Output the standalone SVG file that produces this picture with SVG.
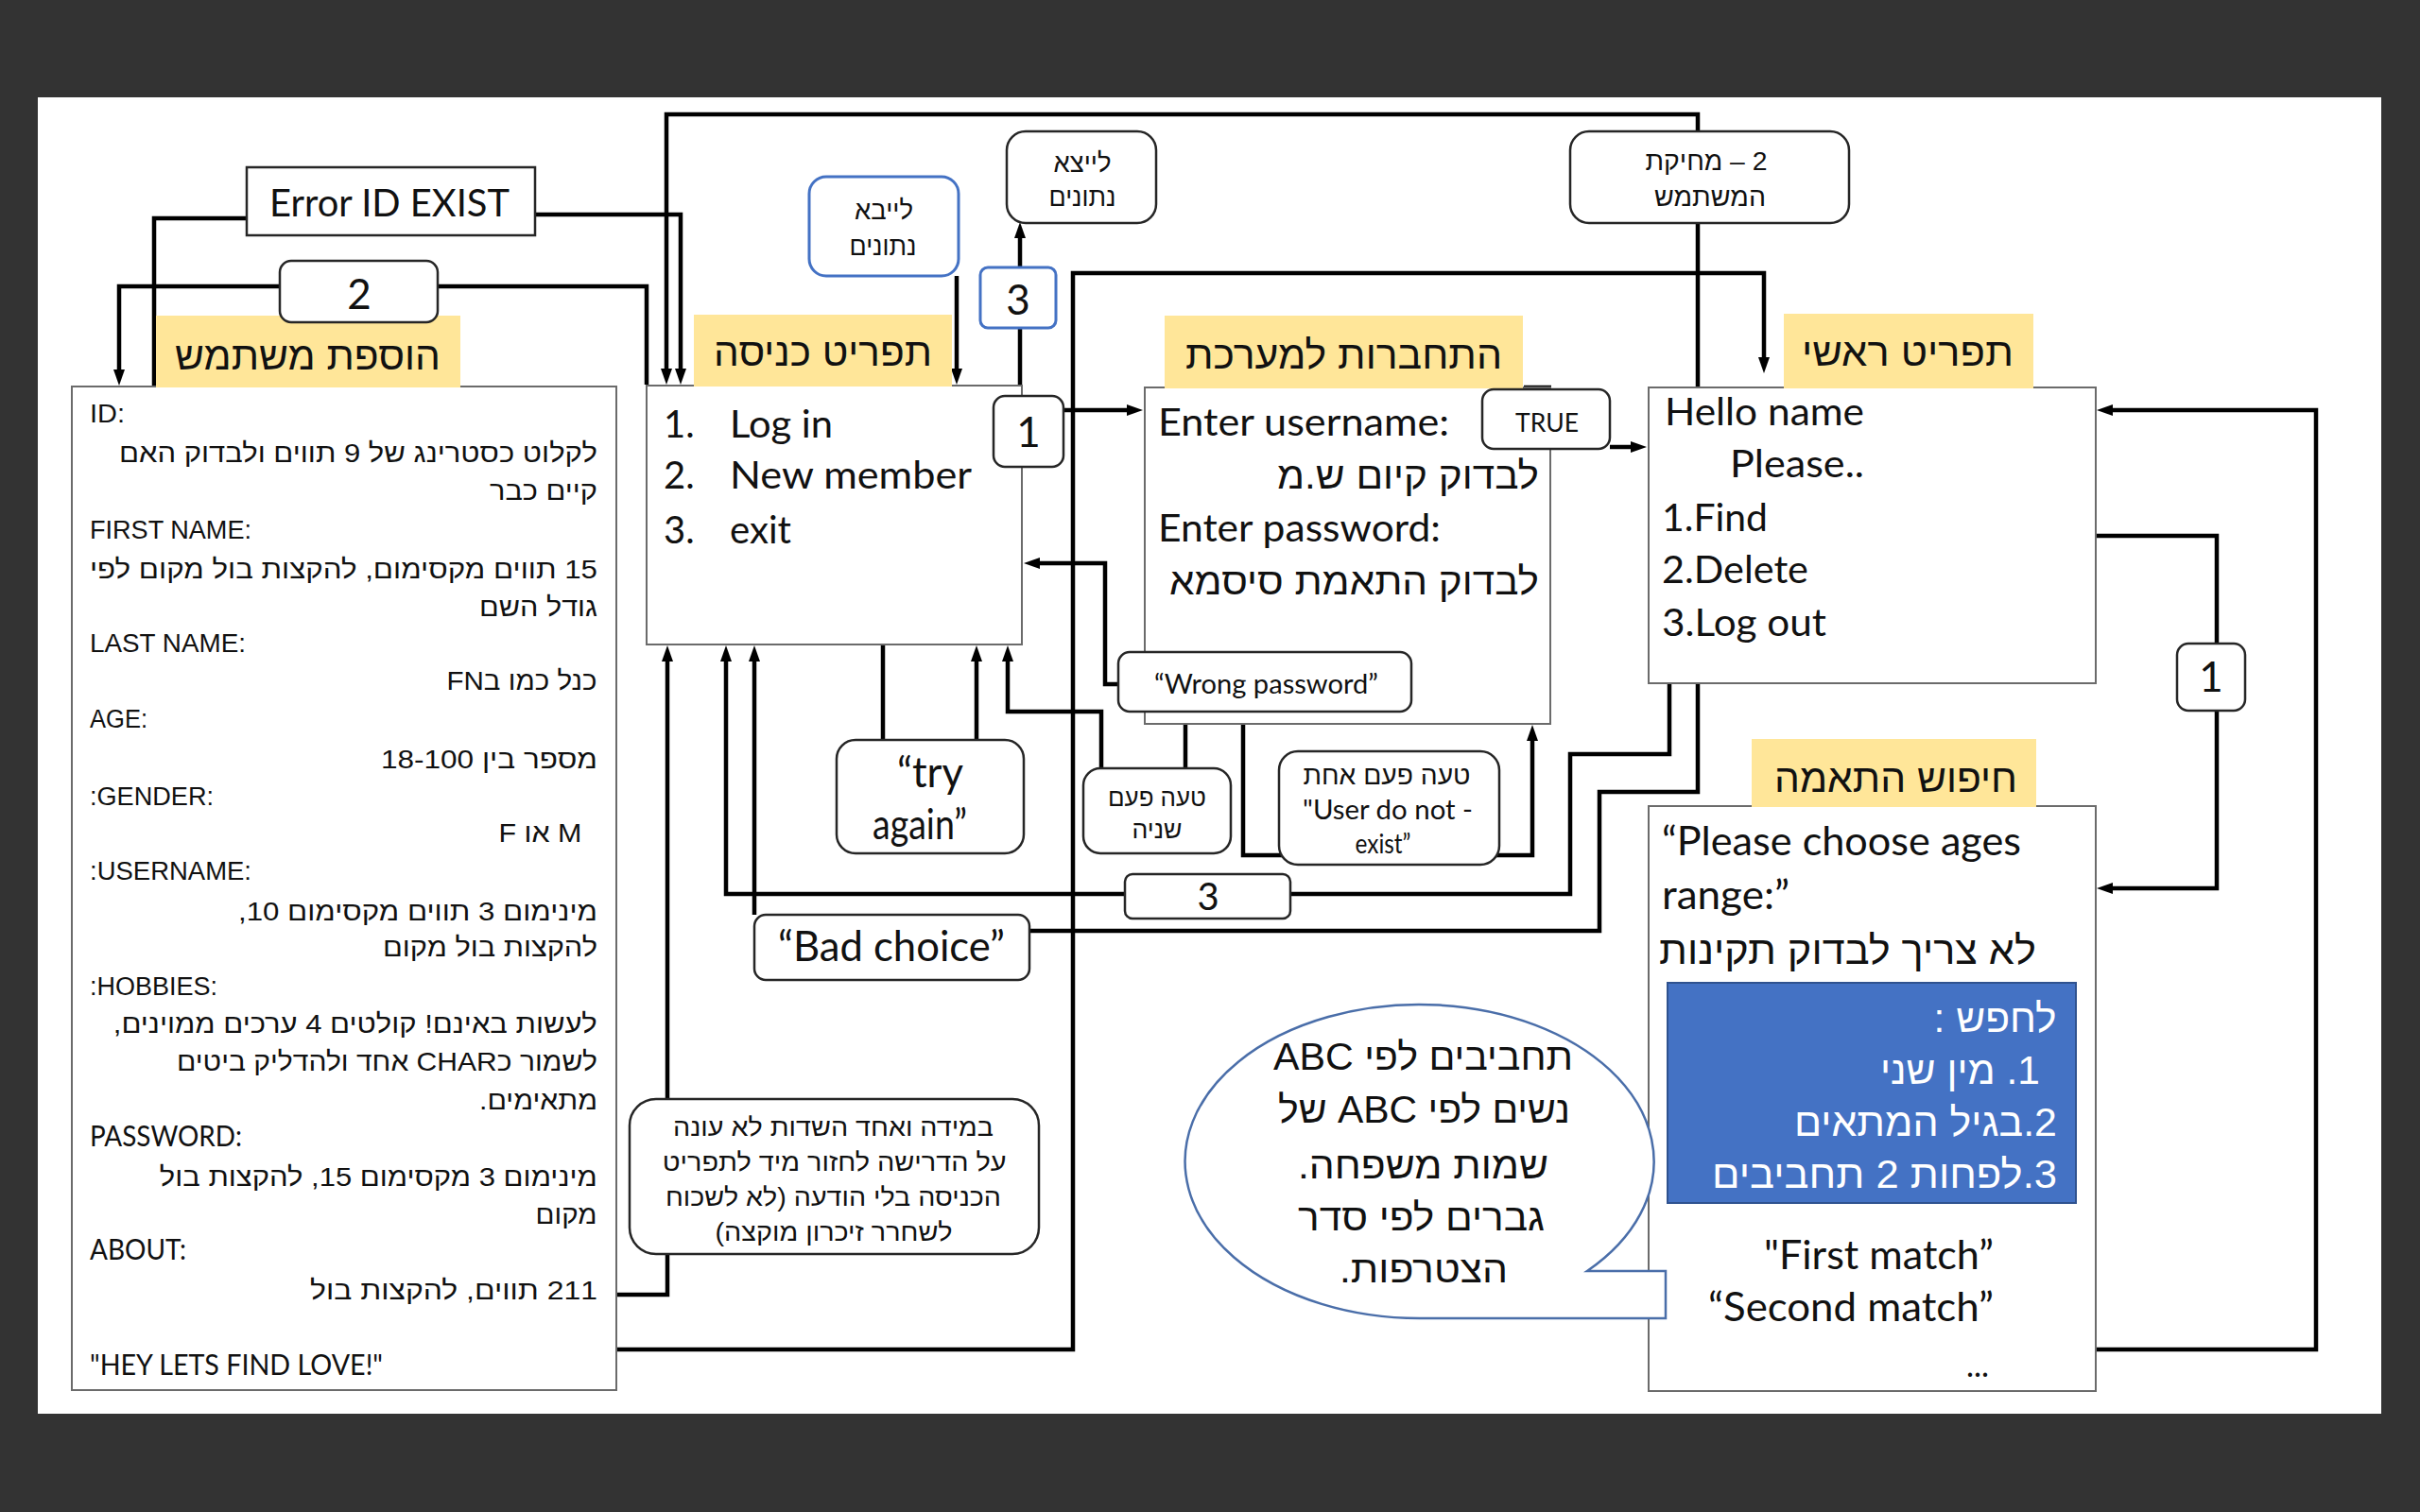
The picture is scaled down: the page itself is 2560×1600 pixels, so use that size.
<svg xmlns="http://www.w3.org/2000/svg" width="2560" height="1600" viewBox="0 0 2560 1600">
<style>
.box{fill:#fff;stroke:#6b6b6b;stroke-width:2}
.rbox{fill:#fff;stroke:#262626;stroke-width:2.5}
.bbox{fill:#fff;stroke:#4472C4;stroke-width:3}
.ttl{fill:#FFE699}
.conn{fill:none;stroke:#000;stroke-width:4.5;stroke-linejoin:miter}
.arr{marker-end:url(#ah)}
text{fill:#111}
.f1{font-family:Lato,'Liberation Sans',sans-serif}
.f2{font-family:'Liberation Sans','DejaVu Sans',sans-serif}
.rtl{direction:rtl;unicode-bidi:embed}
.m{text-anchor:middle}
.w{fill:#fff}
</style>
<defs>
<marker id="ah" markerUnits="userSpaceOnUse" markerWidth="18" markerHeight="14" refX="5" refY="7" orient="auto">
<path d="M0,1 L17,7 L0,13 z" fill="#000"/>
</marker>
</defs>
<rect width="2560" height="1600" fill="#333333"/>
<rect x="40" y="103" width="2479" height="1393" fill="#ffffff"/>

<g id="connectors">
<path class="conn arr" d="M1796,140 V121 H705 V395"/>
<path class="conn" d="M1796,412 V236"/>
<path class="conn arr" d="M566,227 H720 V395"/>
<path class="conn" d="M261,231 H163 V453"/>
<path class="conn arr" d="M684,407 V303 H126 V396"/>
<path class="conn arr" d="M1012,292 V395"/>
<path class="conn arr" d="M1079,407 V247"/>
<path class="conn arr" d="M1125,434 H1197"/>
<path class="conn arr" d="M446,1428 H1135 V289 H1866 V383"/>
<path class="conn arr" d="M1703,473 H1730"/>
<path class="conn arr" d="M1183,724 H1169 V596 H1095"/>
<path class="conn" d="M934,682 V783"/>
<path class="conn arr" d="M1033,783 V695"/>
<path class="conn arr" d="M1165,813 V753 H1066 V695"/>
<path class="conn" d="M1254,766 V813"/>
<path class="conn" d="M1315,766 V905 H1360"/>
<path class="conn arr" d="M1580,905 H1621 V779"/>
<path class="conn arr" d="M1766,723 V798 H1661 V946 H768 V695"/>
<path class="conn" d="M1796,723 V838 H1692 V985 H1089"/>
<path class="conn arr" d="M798,968 V695"/>
<path class="conn arr" d="M652,1370 H706 V695"/>
<path class="conn arr" d="M2217,567 H2345 V940 H2230"/>
<path class="conn arr" d="M2216,1428 H2450 V434 H2230"/>
<path class="conn" d="M1612,410 H1641"/>
</g>

<g id="add-user">
<rect class="box" x="76" y="409" width="576" height="1062"/>
<rect class="ttl" x="165" y="334" width="322" height="76"/>
<text class="f2 rtl m" x="325.5" y="391" font-size="42" textLength="281" lengthAdjust="spacingAndGlyphs">הוספת משתמש</text>
<text class="f2" x="95" y="447" font-size="27" textLength="37" lengthAdjust="spacingAndGlyphs">ID:</text>
<text class="f2 rtl m" x="379" y="489" font-size="28" textLength="506" lengthAdjust="spacingAndGlyphs">לקלוט כסטרינג של 9 תווים ולבדוק האם</text>
<text class="f2 rtl m" x="575" y="529" font-size="28" textLength="114" lengthAdjust="spacingAndGlyphs">קיים כבר</text>
<text class="f2" x="95" y="570" font-size="27" textLength="171" lengthAdjust="spacingAndGlyphs">FIRST NAME:</text>
<text class="f2 rtl m" x="363.5" y="612" font-size="28" textLength="537" lengthAdjust="spacingAndGlyphs">15 תווים מקסימום, להקצות בול מקום לפי</text>
<text class="f2 rtl m" x="569.5" y="652" font-size="28" textLength="125" lengthAdjust="spacingAndGlyphs">גודל השם</text>
<text class="f2" x="95" y="690" font-size="27" textLength="165" lengthAdjust="spacingAndGlyphs">LAST NAME:</text>
<text class="f2 rtl m" x="552" y="730" font-size="28" textLength="159" lengthAdjust="spacingAndGlyphs">כנל כמו בFN</text>
<text class="f2" x="95" y="770" font-size="27" textLength="61" lengthAdjust="spacingAndGlyphs">AGE:</text>
<text class="f2 rtl m" x="517.5" y="813" font-size="28" textLength="229" lengthAdjust="spacingAndGlyphs">מספר בין 18-100</text>
<text class="f2" x="95" y="852" font-size="27" textLength="131" lengthAdjust="spacingAndGlyphs">:GENDER:</text>
<text class="f2 rtl m" x="571.5" y="891" font-size="28" textLength="88" lengthAdjust="spacingAndGlyphs">M או F</text>
<text class="f2" x="95" y="931" font-size="27" textLength="171" lengthAdjust="spacingAndGlyphs">:USERNAME:</text>
<text class="f2 rtl m" x="442" y="974" font-size="28" textLength="380" lengthAdjust="spacingAndGlyphs">מינימום 3 תווים מקסימום 10,</text>
<text class="f2 rtl m" x="518.5" y="1012" font-size="28" textLength="227" lengthAdjust="spacingAndGlyphs">להקצות בול מקום</text>
<text class="f2" x="95" y="1053" font-size="27" textLength="135" lengthAdjust="spacingAndGlyphs">:HOBBIES:</text>
<text class="f2 rtl m" x="375.8" y="1093" font-size="28" textLength="512" lengthAdjust="spacingAndGlyphs">לעשות באינם! קולטים 4 ערכים ממוינים,</text>
<text class="f2 rtl m" x="409.5" y="1133" font-size="28" textLength="445" lengthAdjust="spacingAndGlyphs">לשמור כCHAR אחד ולהדליק ביטים</text>
<text class="f2 rtl m" x="569.5" y="1174" font-size="28" textLength="125" lengthAdjust="spacingAndGlyphs">מתאימים.</text>
<text class="f1" x="95" y="1213" font-size="30" textLength="161" lengthAdjust="spacingAndGlyphs">PASSWORD:</text>
<text class="f2 rtl m" x="400.3" y="1255" font-size="28" textLength="463" lengthAdjust="spacingAndGlyphs">מינימום 3 מקסימום 15, להקצות בול</text>
<text class="f2 rtl m" x="599" y="1295" font-size="28" textLength="65" lengthAdjust="spacingAndGlyphs">מקום</text>
<text class="f1" x="95" y="1333" font-size="30" textLength="102" lengthAdjust="spacingAndGlyphs">ABOUT:</text>
<text class="f2 rtl m" x="480" y="1375" font-size="28" textLength="304" lengthAdjust="spacingAndGlyphs">211  תווים, להקצות בול</text>
<text class="f1" x="95" y="1455" font-size="30" textLength="310" lengthAdjust="spacingAndGlyphs">"HEY LETS FIND LOVE!"</text>
</g>

<g id="error-id-exist">
<rect x="261" y="177" width="305" height="72" fill="#fff" stroke="#262626" stroke-width="2.5"/>
<text class="f1 m" x="412" y="229" font-size="40" textLength="254" lengthAdjust="spacingAndGlyphs">Error ID EXIST</text>
</g>

<g id="label-2">
<rect class="rbox" x="296" y="276" width="167" height="65" rx="12"/>
<text class="f1 m" x="380" y="327" font-size="44">2</text>
</g>

<g id="login-menu">
<rect class="box" x="684" y="408" width="397" height="274"/>
<rect class="ttl" x="734" y="333" width="273" height="76"/>
<text class="f2 rtl m" x="870.5" y="387" font-size="42" textLength="231" lengthAdjust="spacingAndGlyphs">תפריט כניסה</text>
<text class="f1" x="702" y="463" font-size="40">1.</text>
<text class="f1" x="772" y="463" font-size="40" textLength="109" lengthAdjust="spacingAndGlyphs">Log in</text>
<text class="f1" x="702" y="517" font-size="40">2.</text>
<text class="f1" x="772" y="517" font-size="40" textLength="256" lengthAdjust="spacingAndGlyphs">New member</text>
<text class="f1" x="702" y="575" font-size="40">3.</text>
<text class="f1" x="772" y="575" font-size="40" textLength="65" lengthAdjust="spacingAndGlyphs">exit</text>
</g>

<g id="import-data">
<rect class="bbox" x="856" y="187" width="158" height="105" rx="18"/>
<text class="f2 rtl m" x="935" y="232" font-size="28" textLength="62" lengthAdjust="spacingAndGlyphs">לייבא</text>
<text class="f2 rtl m" x="934" y="270" font-size="28" textLength="71" lengthAdjust="spacingAndGlyphs">נתונים</text>
</g>

<g id="export-data">
<rect class="rbox" x="1065" y="139" width="158" height="97" rx="20"/>
<text class="f2 rtl m" x="1145" y="182" font-size="28" textLength="61" lengthAdjust="spacingAndGlyphs">לייצא</text>
<text class="f2 rtl m" x="1145" y="218" font-size="28" textLength="71" lengthAdjust="spacingAndGlyphs">נתונים</text>
</g>

<g id="label-3-top">
<rect class="bbox" x="1037" y="283" width="80" height="64" rx="8"/>
<text class="f1 m" x="1077" y="333" font-size="44">3</text>
</g>

<g id="label-1-login">
<rect class="rbox" x="1051" y="419" width="74" height="75" rx="12"/>
<text class="f1 m" x="1088" y="473" font-size="44">1</text>
</g>

<g id="delete-user">
<rect class="rbox" x="1661" y="139" width="295" height="97" rx="20"/>
<text class="f2 rtl m" x="1805" y="180" font-size="28" textLength="129" lengthAdjust="spacingAndGlyphs">2 – מחיקת</text>
<text class="f2 rtl m" x="1809" y="218" font-size="28" textLength="118" lengthAdjust="spacingAndGlyphs">המשתמש</text>
</g>

<g id="connect-system">
<rect class="box" x="1211" y="410" width="429" height="356"/>
<rect class="ttl" x="1232" y="334" width="379" height="77"/>
<text class="f2 rtl m" x="1421.5" y="390" font-size="42" textLength="335" lengthAdjust="spacingAndGlyphs">התחברות למערכת</text>
<text class="f1" x="1225" y="461" font-size="40" textLength="308" lengthAdjust="spacingAndGlyphs">Enter username:</text>
<text class="f2 rtl m" x="1489.5" y="517" font-size="40" textLength="277" lengthAdjust="spacingAndGlyphs">לבדוק קיום ש.מ</text>
<text class="f1" x="1225" y="573" font-size="40" textLength="299" lengthAdjust="spacingAndGlyphs">Enter password:</text>
<text class="f2 rtl m" x="1432.5" y="629" font-size="40" textLength="391" lengthAdjust="spacingAndGlyphs">לבדוק התאמת סיסמא</text>
</g>

<g id="true-label">
<rect class="rbox" x="1568" y="412" width="135" height="63" rx="12"/>
<text class="f1 m" x="1636.5" y="457" font-size="26" textLength="67" lengthAdjust="spacingAndGlyphs">TRUE</text>
</g>

<g id="wrong-password">
<rect class="rbox" x="1183" y="690" width="310" height="63" rx="12"/>
<text class="f1 m" x="1339.5" y="734" font-size="28" textLength="237" lengthAdjust="spacingAndGlyphs">“Wrong password”</text>
</g>

<g id="try-again">
<rect class="rbox" x="885" y="783" width="198" height="120" rx="20"/>
<text class="f1 m" x="984" y="833" font-size="44" textLength="70" lengthAdjust="spacingAndGlyphs">“try</text>
<text class="f1 m" x="973" y="888" font-size="44" textLength="100" lengthAdjust="spacingAndGlyphs">again”</text>
</g>

<g id="second-error">
<rect class="rbox" x="1146" y="813" width="156" height="90" rx="18"/>
<text class="f2 rtl m" x="1224" y="853" font-size="27" textLength="104" lengthAdjust="spacingAndGlyphs">טעה פעם</text>
<text class="f2 rtl m" x="1224" y="887" font-size="27" textLength="53" lengthAdjust="spacingAndGlyphs">שניה</text>
</g>

<g id="first-error">
<rect class="rbox" x="1353" y="795" width="233" height="120" rx="20"/>
<text class="f2 rtl m" x="1467" y="830" font-size="28" textLength="177" lengthAdjust="spacingAndGlyphs">טעה פעם אחת</text>
<text class="f1 m" x="1468" y="867" font-size="28" textLength="180" lengthAdjust="spacingAndGlyphs">"User do not -</text>
<text class="f1 m" x="1463" y="903" font-size="28" textLength="59" lengthAdjust="spacingAndGlyphs">exist”</text>
</g>

<g id="label-3-bottom">
<rect class="rbox" x="1190" y="925" width="175" height="47" rx="8"/>
<text class="f1 m" x="1278" y="963" font-size="40">3</text>
</g>

<g id="bad-choice">
<rect class="rbox" x="798" y="968" width="291" height="69" rx="12"/>
<text class="f1 m" x="943" y="1017" font-size="44" textLength="240" lengthAdjust="spacingAndGlyphs">“Bad choice”</text>
</g>

<g id="note">
<rect class="rbox" x="666" y="1163" width="433" height="164" rx="28"/>
<text class="f2 rtl m" x="881.5" y="1202" font-size="27" textLength="339" lengthAdjust="spacingAndGlyphs">במידה ואחד השדות לא עונה</text>
<text class="f2 rtl m" x="882.7" y="1239" font-size="27" textLength="364" lengthAdjust="spacingAndGlyphs">על הדרישה לחזור מיד לתפריט</text>
<text class="f2 rtl m" x="881.5" y="1276" font-size="27" textLength="355" lengthAdjust="spacingAndGlyphs">הכניסה בלי הודעה (לא לשכוח</text>
<text class="f2 rtl m" x="882" y="1313" font-size="27" textLength="251" lengthAdjust="spacingAndGlyphs">לשחרר זיכרון מוקצה)</text>
</g>

<g id="main-menu">
<rect class="box" x="1744" y="410" width="473" height="313"/>
<rect class="ttl" x="1887" y="332" width="264" height="79"/>
<text class="f2 rtl m" x="2018" y="387" font-size="42" textLength="224" lengthAdjust="spacingAndGlyphs">תפריט ראשי</text>
<text class="f1" x="1761" y="450" font-size="40" textLength="211" lengthAdjust="spacingAndGlyphs">Hello name</text>
<text class="f1" x="1830" y="505" font-size="40" textLength="142" lengthAdjust="spacingAndGlyphs">Please..</text>
<text class="f1" x="1758" y="562" font-size="40" textLength="112" lengthAdjust="spacingAndGlyphs">1.Find</text>
<text class="f1" x="1758" y="617" font-size="40" textLength="155" lengthAdjust="spacingAndGlyphs">2.Delete</text>
<text class="f1" x="1758" y="673" font-size="40" textLength="174" lengthAdjust="spacingAndGlyphs">3.Log out</text>
</g>

<g id="label-1-right">
<rect class="rbox" x="2303" y="681" width="72" height="71" rx="12"/>
<text class="f1 m" x="2339" y="732" font-size="44">1</text>
</g>

<g id="match-search">
<rect class="box" x="1744" y="853" width="473" height="619"/>
<rect class="ttl" x="1853" y="782" width="301" height="72"/>
<text class="f2 rtl m" x="2005.5" y="838" font-size="42" textLength="257" lengthAdjust="spacingAndGlyphs">חיפוש התאמה</text>
<text class="f1" x="1758" y="905" font-size="42" textLength="380" lengthAdjust="spacingAndGlyphs">“Please choose ages</text>
<text class="f1" x="1758" y="962" font-size="42" textLength="135" lengthAdjust="spacingAndGlyphs">range:”</text>
<text class="f2 rtl m" x="1954.5" y="1020" font-size="42" textLength="399" lengthAdjust="spacingAndGlyphs">לא צריך לבדוק תקינות</text>
<rect x="1764" y="1040" width="432" height="233" fill="#4472C4" stroke="#2F528F" stroke-width="2"/>
<text class="f2 rtl m w" x="2110.6" y="1092" font-size="42" textLength="130" lengthAdjust="spacingAndGlyphs">לחפש :</text>
<text class="f2 rtl m w" x="2073.5" y="1147" font-size="42" textLength="169" lengthAdjust="spacingAndGlyphs">1. מין שני</text>
<text class="f2 rtl m w" x="2037" y="1202" font-size="42" textLength="278" lengthAdjust="spacingAndGlyphs">2.בגיל המתאים</text>
<text class="f2 rtl m w" x="1993.5" y="1257" font-size="42" textLength="365" lengthAdjust="spacingAndGlyphs">3.לפחות 2 תחביבים</text>
<text class="f1 m" x="1987.5" y="1343" font-size="42" textLength="243" lengthAdjust="spacingAndGlyphs">"First match”</text>
<text class="f1 m" x="1958" y="1398" font-size="42" textLength="302" lengthAdjust="spacingAndGlyphs">“Second match”</text>
<text class="f1" x="2080" y="1457" font-size="34">...</text>
</g>

<g id="speech-bubble">
<path d="M1679,1345 A248,166 0 1,0 1502,1395 L1762,1395 L1762,1345 Z" fill="#fff" stroke="#4a6ea9" stroke-width="2.5"/>
<text class="f2 rtl m" x="1505.5" y="1132" font-size="40" textLength="317" lengthAdjust="spacingAndGlyphs">תחביבים לפי ABC</text>
<text class="f2 rtl m" x="1506.5" y="1188" font-size="40" textLength="309" lengthAdjust="spacingAndGlyphs">נשים לפי ABC של</text>
<text class="f2 rtl m" x="1505.5" y="1247" font-size="40" textLength="265" lengthAdjust="spacingAndGlyphs">שמות משפחה.</text>
<text class="f2 rtl m" x="1503.5" y="1302" font-size="40" textLength="261" lengthAdjust="spacingAndGlyphs">גברים לפי סדר</text>
<text class="f2 rtl m" x="1506" y="1357" font-size="40" textLength="178" lengthAdjust="spacingAndGlyphs">הצטרפות.</text>
</g>
</svg>
